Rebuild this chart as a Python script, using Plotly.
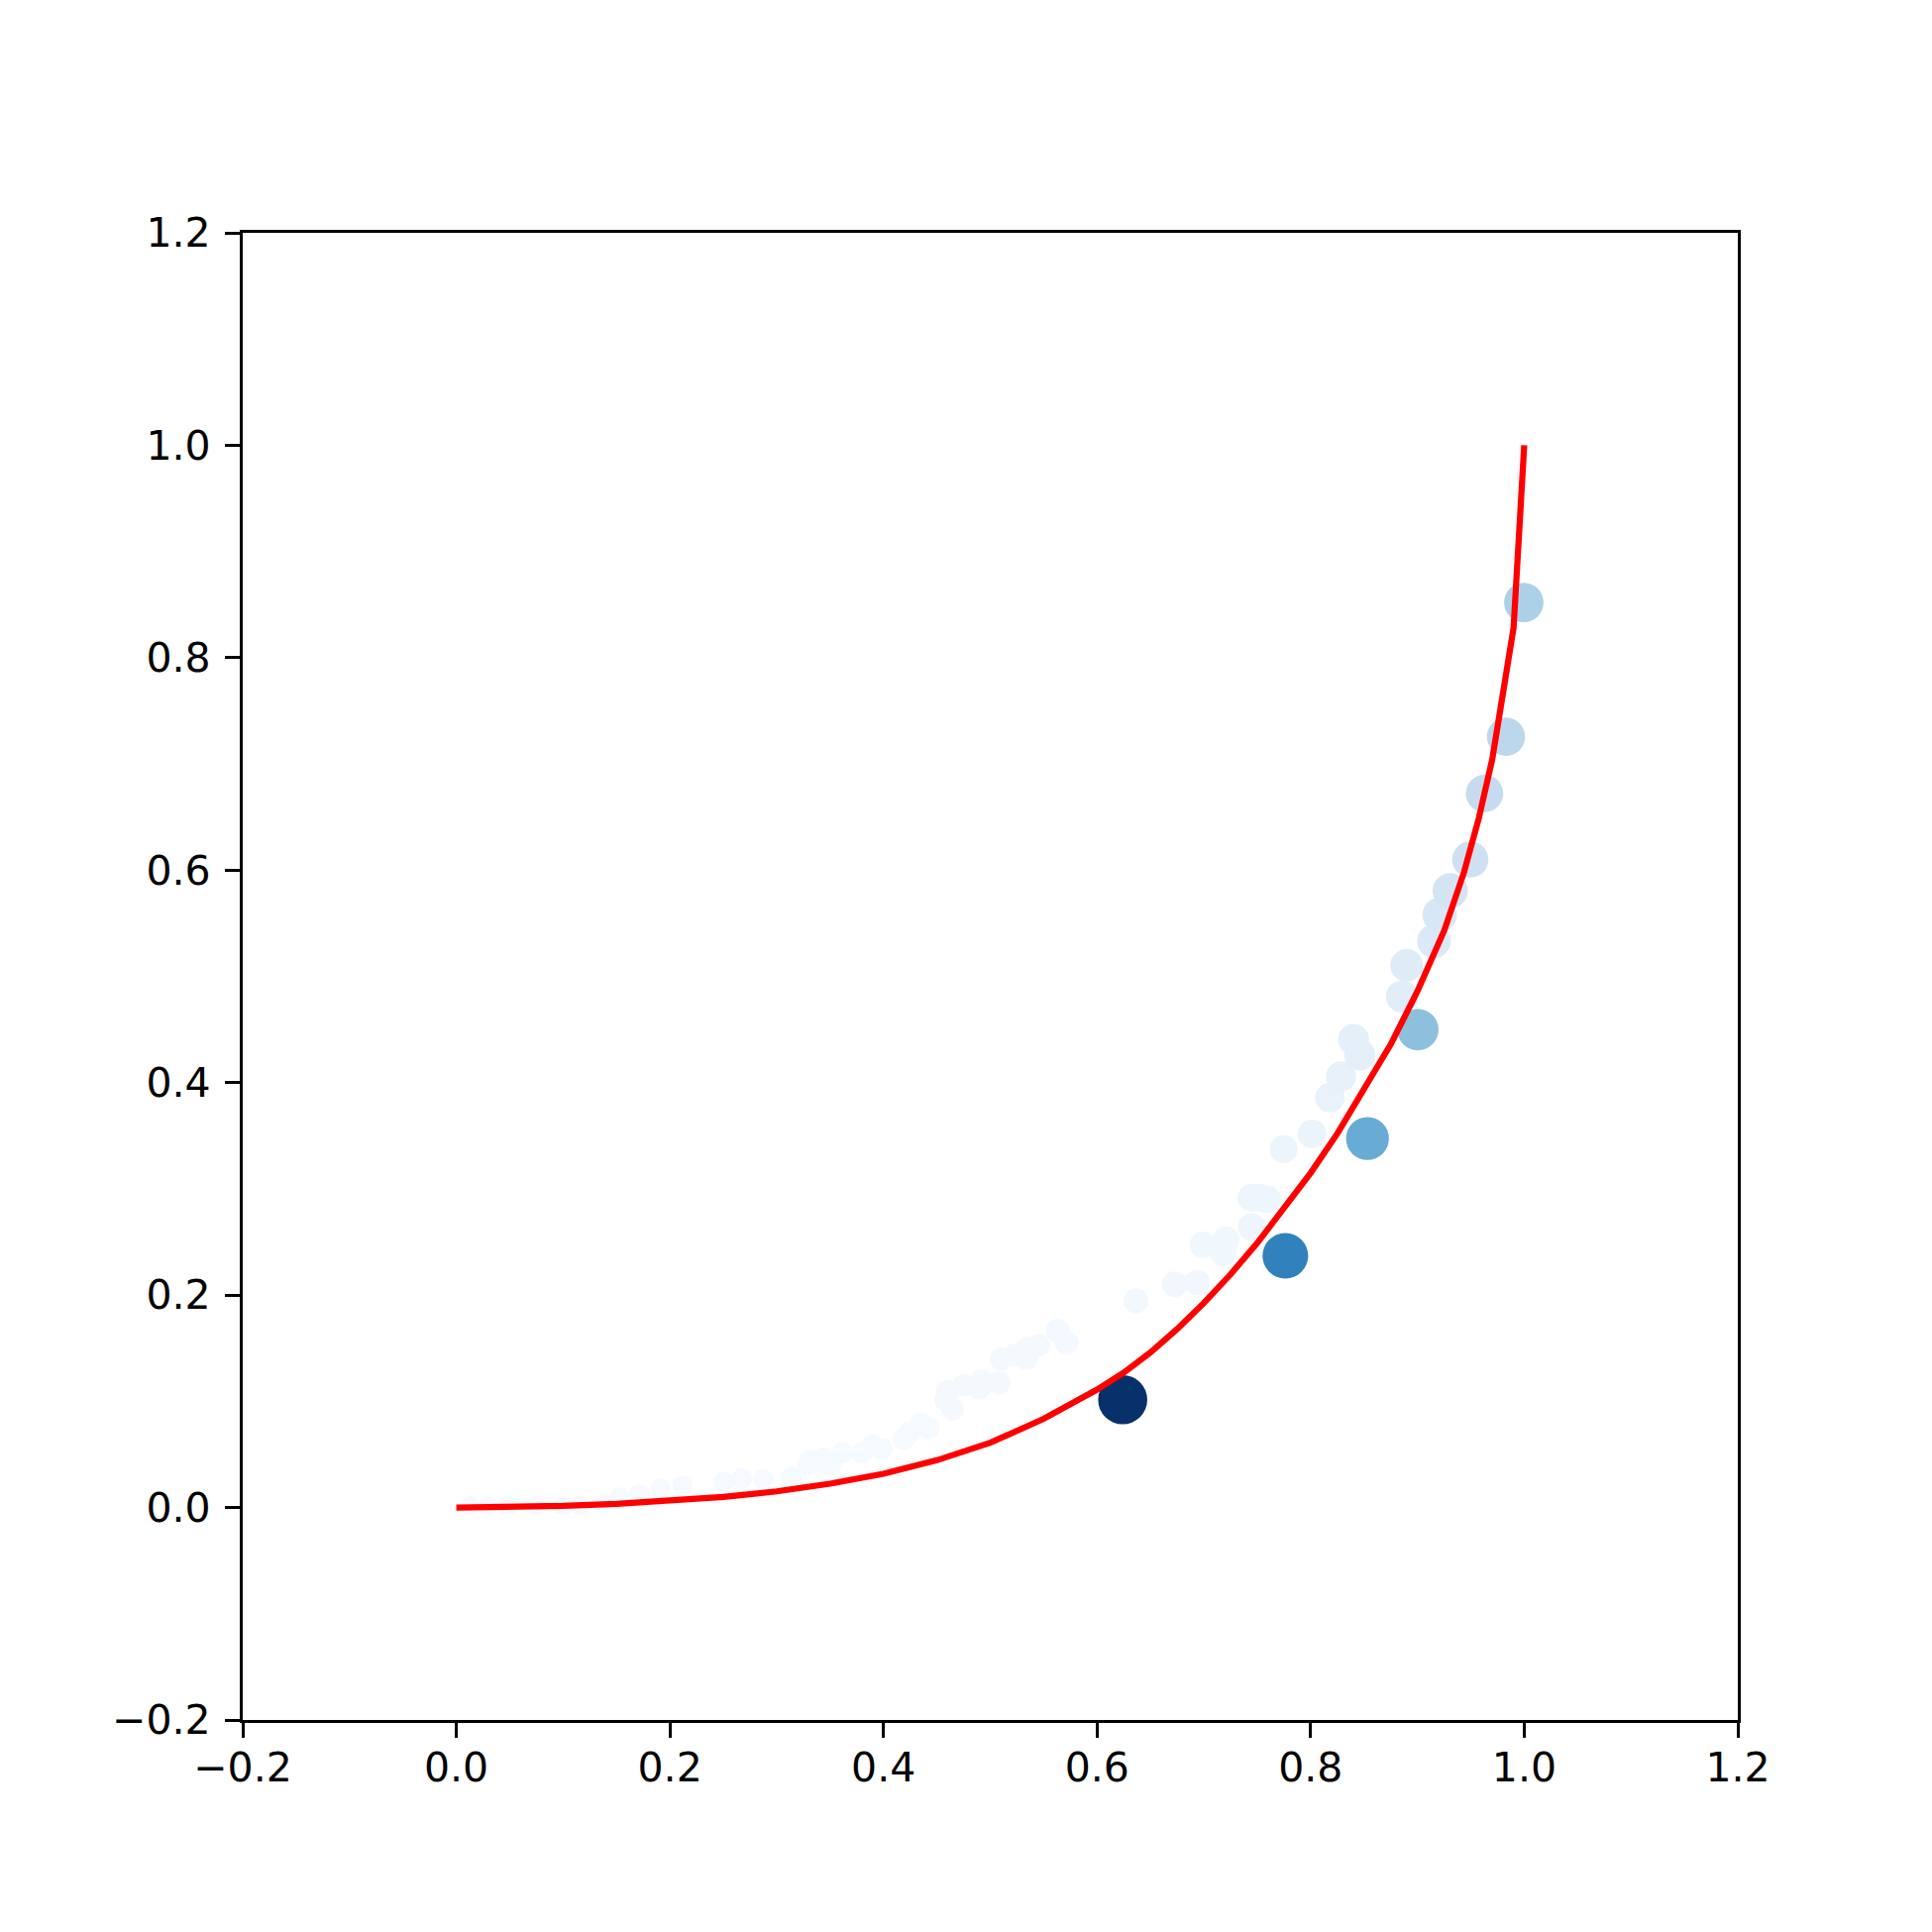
import plotly.graph_objects as go
import plotly.colors as pc

# ---------------- data ----------------
# scatter points: x, y, weight (weight drives colour and marker size)
pts_x = [0.0125, 0.0295, 0.048, 0.0743, 0.1005, 0.1159, 0.1375, 0.153, 0.1715, 0.191,
         0.2116, 0.2503, 0.2673, 0.2873, 0.3135, 0.3291, 0.3305, 0.3414, 0.3445, 0.3506,
         0.3615, 0.38, 0.3893, 0.3985, 0.4186, 0.4242, 0.435, 0.4424, 0.4578, 0.4597,
         0.4649, 0.4757, 0.4896, 0.4918, 0.5082, 0.5104, 0.5227, 0.5338, 0.5344, 0.5452,
         0.5632, 0.5715, 0.624, 0.6364, 0.6728, 0.6938, 0.699, 0.7182, 0.7207, 0.7444,
         0.7448, 0.7522, 0.7592, 0.7747, 0.7763, 0.8013, 0.818, 0.8284, 0.8402, 0.846,
         0.8532, 0.8856, 0.8899, 0.9004, 0.9155, 0.9208, 0.9306, 0.9495, 0.9628, 0.9829,
         0.9996]
pts_y = [0.0015, 0.0015, 0.0015, 0.0015, 0.0015, 0.002, 0.0037, 0.0099, 0.013, 0.0183,
         0.0208, 0.0239, 0.0276, 0.027, 0.0285, 0.0394, 0.044, 0.0425, 0.0471, 0.04,
         0.0518, 0.0518, 0.0587, 0.055, 0.0643, 0.0705, 0.0792, 0.0751, 0.1015, 0.1093,
         0.0922, 0.1154, 0.1123, 0.1201, 0.117, 0.1397, 0.1434, 0.1403, 0.1497, 0.1528,
         0.1664, 0.1552, 0.1015, 0.1947, 0.2102, 0.2118, 0.2474, 0.2397, 0.2521, 0.2916,
         0.2642, 0.2916, 0.2903, 0.3375, 0.237, 0.3517, 0.3859, 0.4058, 0.4406, 0.426,
         0.3474, 0.4812, 0.5104, 0.4499, 0.5331, 0.558, 0.5806, 0.6101, 0.6722, 0.7256,
         0.852]
pts_w = [0.005, 0.005, 0.005, 0.005, 0.005, 0.005, 0.005, 0.005, 0.006, 0.006,
         0.006, 0.007, 0.007, 0.007, 0.008, 0.008, 0.008, 0.008, 0.008, 0.008,
         0.009, 0.009, 0.01, 0.01, 0.01, 0.011, 0.011, 0.011, 0.012, 0.012,
         0.012, 0.013, 0.013, 0.013, 0.014, 0.015, 0.015, 0.015, 0.016, 0.016,
         0.018, 0.018, 1.0, 0.025, 0.03, 0.03, 0.035, 0.035, 0.035, 0.045,
         0.045, 0.045, 0.045, 0.05, 0.69, 0.06, 0.07, 0.075, 0.09, 0.09,
         0.51, 0.11, 0.12, 0.42, 0.14, 0.16, 0.18, 0.21, 0.25, 0.28,
         0.33]

# red curve
curve_x = [0.0, 0.05, 0.1, 0.15, 0.2, 0.25, 0.3, 0.35, 0.4, 0.45, 0.5, 0.55, 0.6,
           0.625, 0.65, 0.675, 0.7, 0.725, 0.75, 0.775, 0.8, 0.825, 0.85, 0.875,
           0.9, 0.925, 0.9436, 0.95, 0.9575, 0.97, 0.9776, 0.99, 1.0]
curve_y = [0.0, 0.0004, 0.0015, 0.0034, 0.0062, 0.0100, 0.0152, 0.0225, 0.0318, 0.0445,
           0.061, 0.0835, 0.111, 0.127, 0.146, 0.168, 0.1925, 0.2195, 0.249, 0.281,
           0.315, 0.352, 0.393, 0.436, 0.486, 0.543, 0.598, 0.621, 0.649, 0.704,
           0.752, 0.828, 1.0]

tick_vals = [-0.2, 0.0, 0.2, 0.4, 0.6, 0.8, 1.0, 1.2]
tick_text = ["\u22120.2", "0.0", "0.2", "0.4", "0.6", "0.8", "1.0", "1.2"]

# ---------------- figure ----------------
sizes = [2 * (4.6 + 20.2 * w ** 0.25) for w in pts_w]

fig = go.Figure()
fig.add_trace(go.Scatter(
    x=pts_x, y=pts_y, mode="markers",
    marker=dict(size=sizes, sizemode="diameter", color=pts_w,
                colorscale=pc.sequential.Blues, cmin=0, cmax=1,
                line=dict(width=0), opacity=1),
    showlegend=False, hoverinfo="x+y"))
fig.add_trace(go.Scatter(
    x=curve_x, y=curve_y, mode="lines",
    line=dict(color="#ff0000", width=6.2),
    showlegend=False))

axis_common = dict(
    range=[-0.2, 1.2], tickvals=tick_vals, ticktext=tick_text,
    showgrid=False, zeroline=False, showline=True, linecolor="black",
    linewidth=3.3, mirror=True, ticks="outside", ticklen=15, tickwidth=3.3,
    tickcolor="black", tickfont=dict(family="DejaVu Sans", size=41, color="black"),
)
fig.update_xaxes(**axis_common, ticklabelstandoff=-5)
fig.update_yaxes(**axis_common, ticklabelstandoff=6)

fig.update_layout(
    width=1950, height=1950,
    margin=dict(l=237, r=204, t=227, b=222, pad=0),
    paper_bgcolor="white", plot_bgcolor="white",
    font=dict(family="DejaVu Sans", color="black"),
)

fig.write_html("out.html")
